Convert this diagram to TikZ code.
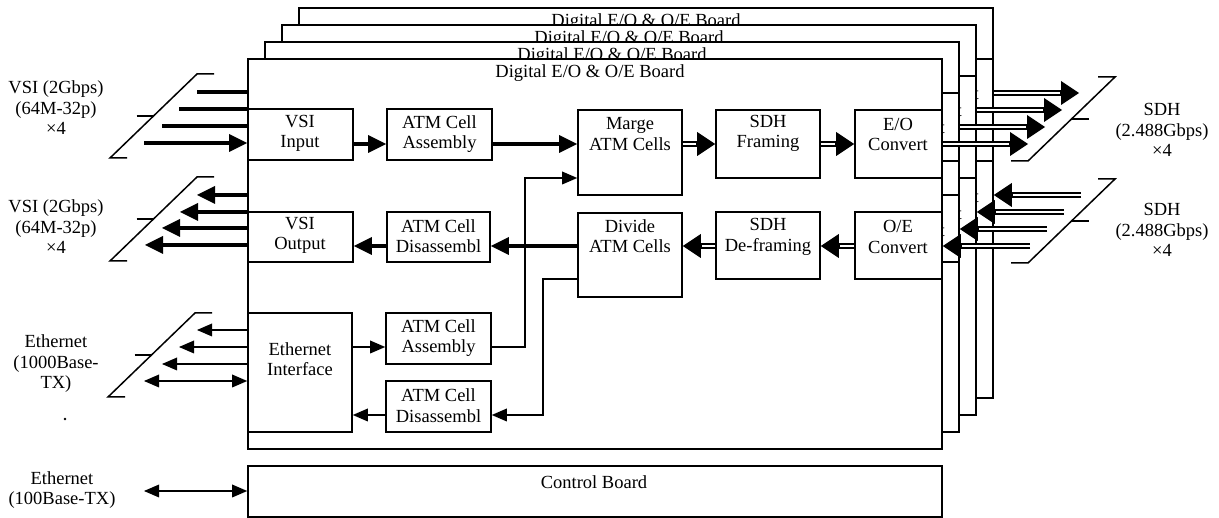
\documentclass[tikz,border=0pt]{standalone}
\usepackage{fontspec}
\setmainfont{Liberation Serif}
\usetikzlibrary{arrows.meta,calc}
\tikzset{
  board/.style={draw,line width=1.8pt,fill=white,minimum width=694pt,minimum height=390pt,inner sep=0pt},
  blk/.style={draw,line width=1.6pt,fill=white,inner sep=0pt},
  txt/.style={align=center,inner sep=0pt},
  ttl/.style={anchor=base,inner sep=0pt},
  thkline/.style={line width=3.5pt},
  thk/.style={line width=3.5pt,-{Triangle[length=18pt,width=18pt,line width=0pt]}},
  dbl/.style={line width=6pt,-{Triangle[length=18pt,width=24pt,line width=0pt]},
     postaction={draw=white,line width=2pt,-,shorten >=19pt}},
  thn/.style={line width=1.5pt,-{Triangle[length=15pt,width=13pt,line width=0pt]}},
  thnboth/.style={line width=1.5pt,{Triangle[length=15pt,width=13pt,line width=0pt]}-{Triangle[length=15pt,width=13pt,line width=0pt]}},
  sl/.style={line width=1.5pt},
  lslash/.pic={\draw[sl] (17,0) -- (0,0) -- (-87,84) -- (-70,84); \draw[sl] (-60.5,42) -- (-43.5,42);},
  rslash/.pic={\draw[sl] (-17,0) -- (0,0) -- (-87,84) -- (-104,84); \draw[sl] (-43.5,42) -- (-26.5,42);}
}
\begin{document}
\begin{tikzpicture}[x=1pt,y=-1pt,font=\fontsize{18.5}{20.5}\selectfont]
\useasboundingbox (0,0) rectangle (1219,518);

% back boards
\foreach \k in {3,2,1}{
  \node[board] (b\k) at ({595+17*\k},{254-17*\k}) {};
  \node[ttl] (t\k) at ({595+17*\k},{78-17*\k}) {Digital E/O \& O/E Board};
  \node[blk,minimum width=87pt,minimum height=68pt] (eo\k) at ({898.5+17*\k},{144-17*\k}) {};
  \node[txt] (eot\k) at ({898+17*\k},{134.5-17*\k}) {E/O\\Convert};
  \node[blk,minimum width=87pt,minimum height=67pt] (oe\k) at ({898.5+17*\k},{245.5-17*\k}) {};
  \node[txt] (oet\k) at ({898+17*\k},{237-17*\k}) {O/E\\Convert};
}

% front board
\node[board] (b0) at (595,254) {};
\node[ttl] (t0) at (590,78) {Digital E/O \& O/E Board};

\node[blk,minimum width=105pt,minimum height=51pt] (vsiin) at (300.5,134.5) {};
\node[txt] (tvsiin) at (300,133.5) {VSI\\Input};
\node[blk,minimum width=105pt,minimum height=51pt] (atma) at (439.5,134.5) {};
\node[txt] (tatma) at (439.5,134) {ATM Cell\\Assembly};
\node[blk,minimum width=104pt,minimum height=85pt] (marge) at (630,152.5) {};
\node[txt] (tmarge) at (630,134) {Marge\\ATM Cells};
\node[blk,minimum width=104pt,minimum height=68pt] (sdhf) at (768,144) {};
\node[txt] (tsdhf) at (768,133.5) {SDH\\Framing};
\node[blk,minimum width=87pt,minimum height=68pt] (eo0) at (898.5,144) {};
\node[txt] (eot0) at (898,134.5) {E/O\\Convert};

\node[blk,minimum width=105pt,minimum height=50pt] (vsiout) at (300.5,237) {};
\node[txt] (tvsiout) at (300,235.5) {VSI\\Output};
\node[blk,minimum width=103pt,minimum height=50pt] (atmd) at (438.5,237) {};
\node[txt] (tatmd) at (438.5,236) {ATM Cell\\Disassembl};
\node[blk,minimum width=104pt,minimum height=84pt] (divide) at (630,255) {};
\node[txt] (tdivide) at (630,236) {Divide\\ATM Cells};
\node[blk,minimum width=104pt,minimum height=67pt] (sdhd) at (768,245.5) {};
\node[txt] (tsdhd) at (768,237) {SDH\\De-framing};
\node[blk,minimum width=87pt,minimum height=67pt] (oe0) at (898.5,245.5) {};
\node[txt] (oet0) at (898,237) {O/E\\Convert};

\node[blk,minimum width=104pt,minimum height=119pt] (eth) at (300,372.5) {};
\node[txt] (teth) at (300,359) {Ethernet\\Interface};
\node[blk,minimum width=105pt,minimum height=51pt] (atma2) at (438.5,338.5) {};
\node[txt] (tatma2) at (438.5,338) {ATM Cell\\Assembly};
\node[blk,minimum width=105pt,minimum height=51pt] (atmd2) at (438.5,406.5) {};
\node[txt] (tatmd2) at (438.5,405.5) {ATM Cell\\Disassembl};

% control board
\node[blk,minimum width=694pt,minimum height=51pt] (ctrl) at (595,491.5) {};
\node[txt] (tctrl) at (594,482) {Control Board};

% outside labels
\node[txt] (lvsi1) at (56,108) {VSI (2Gbps)\\(64M-32p)\\×4};
\node[txt] (lvsi2) at (56,227) {VSI (2Gbps)\\(64M-32p)\\×4};
\node[txt] (leth1) at (56,364) {Ethernet\\(1000Base-\\TX)};
\node[txt] (leth2) at (62,490) {Ethernet\\(100Base-TX)};
\node[txt] (lsdh1) at (1162,130) {SDH\\(2.488Gbps)\\×4};
\node[txt] (lsdh2) at (1162,230) {SDH\\(2.488Gbps)\\×4};

% slashes
\pic at (197,74) {lslash};
\pic at (197,177) {lslash};
\pic at (195,313) {lslash};
\pic at (1115,77) {rslash};
\pic at (1115,179) {rslash};

% level coordinates
\coordinate (yA) at (0,144);
\coordinate (yB) at (0,246);
\coordinate (ye1) at (0,347);
\coordinate (ye2) at (0,415);
\coordinate (ym) at (0,178);
\coordinate (yd) at (0,279);
\coordinate (xv1) at (525,0);
\coordinate (xv2) at (543,0);

% VSI input lines
\coordinate (vi1) at (197,92);
\coordinate (vi2) at (179,109);
\coordinate (vi3) at (162,126);
\coordinate (vi4) at (144,143);
\draw[thkline] (vi1) -- (vi1 -| b0.west);
\draw[thkline] (vi2) -- (vi2 -| b0.west);
\draw[thkline] (vi3) -- (vi3 -| b0.west);
\draw[thk] (vi4) -- (vi4 -| vsiin.west);

% VSI output lines
\coordinate (vo1) at (197,195);
\coordinate (vo2) at (180,212);
\coordinate (vo3) at (162,228);
\coordinate (vo4) at (145,245);
\draw[thk] (vo1 -| b0.west) -- (vo1);
\draw[thk] (vo2 -| b0.west) -- (vo2);
\draw[thk] (vo3 -| b0.west) -- (vo3);
\draw[thk] (vo4 -| vsiout.west) -- (vo4);

% Ethernet lines
\coordinate (e1) at (197,330);
\coordinate (e2) at (179,347);
\coordinate (e3) at (162,364);
\coordinate (e4) at (144,381);
\draw[thn] (e1 -| eth.west) -- (e1);
\draw[thn] (e2 -| eth.west) -- (e2);
\draw[thn] (e3 -| eth.west) -- (e3);
\draw[thnboth] (e4) -- (e4 -| eth.west);

% control ethernet
\coordinate (ce) at (144,491);
\draw[thnboth] (ce) -- (ce -| ctrl.west);

% internal flows
\draw[thk] (vsiin.east |- yA) -- (atma.west |- yA);
\draw[thk] (atma.east |- yA) -- (marge.west |- yA);
\draw[dbl] (marge.east |- yA) -- (sdhf.west |- yA);
\draw[dbl] (sdhf.east |- yA) -- (eo0.west |- yA);
\draw[dbl] (oe0.west |- yB) -- (sdhd.east |- yB);
\draw[dbl] (sdhd.west |- yB) -- (divide.east |- yB);
\draw[thk] (divide.west |- yB) -- (atmd.east |- yB);
\draw[thk] (atmd.west |- yB) -- (vsiout.east |- yB);

\draw[thn] (eth.east |- ye1) -- (atma2.west |- ye1);
\draw[thn] (atmd2.west |- ye2) -- (eth.east |- ye2);
\draw[thn] (atma2.east |- ye1) -| (xv1 |- ym) -- (marge.west |- ym);
\draw[thn] (divide.west |- yd) -| (xv2 |- ye2) -- (atmd2.east |- ye2);

% right side SDH arrows
\foreach \k in {0,1,2,3}{
  \coordinate (ot\k) at ({1028+17*\k},{144-17*\k});
  \draw[dbl] (eo\k.east) -- (ot\k);
  \coordinate (it\k) at ({1030+17*\k},{246-17*\k});
  \draw[dbl] (it\k) -- (it\k -| oe\k.east);
}

% stray dot
\fill (65,419) circle (1.3pt);
\end{tikzpicture}
\end{document}
